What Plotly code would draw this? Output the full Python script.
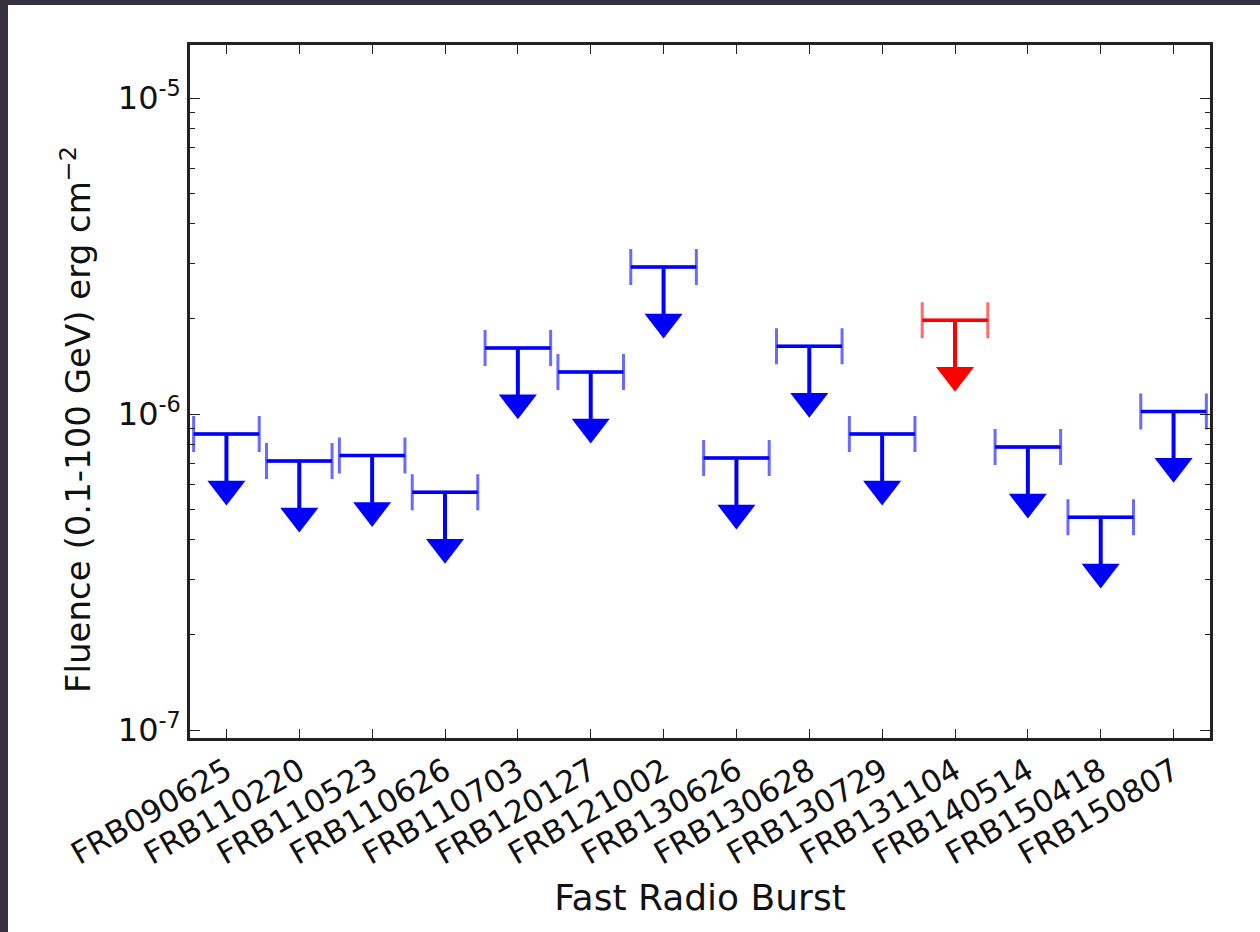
import plotly.graph_objects as go

# Fast radio bursts and Fermi-LAT fluence upper limits (erg cm^-2)
bursts = ["FRB090625", "FRB110220", "FRB110523", "FRB110626", "FRB110703",
          "FRB120127", "FRB121002", "FRB130626", "FRB130628", "FRB130729",
          "FRB131104", "FRB140514", "FRB150418", "FRB150807"]
fluence_ul = [8.65e-7, 7.1e-7, 7.4e-7, 5.66e-7, 1.62e-6,
              1.36e-6, 2.92e-6, 7.26e-7, 1.64e-6, 8.65e-7,
              1.98e-6, 7.87e-7, 4.72e-7, 1.02e-6]
highlight = ["FRB131104"]

ytick_vals = [1e-7, 1e-6, 1e-5]
ytick_text = ["10<sup>-7</sup>", "10<sup>-6</sup>", "10<sup>-5</sup>"]

W, H = 1260, 932
ML, MR, MT, MB = 190, 50, 45, 194
FONT = "DejaVu Sans"

STEM = 10 ** -0.15    # arrow shaft ends where the head starts
HEAD = 10 ** -0.174   # centre of the triangular arrowhead
HALF = 0.45           # half-width of the horizontal bar (category units)

fig = go.Figure()

groups = [
    ("#0000ff", "#6a6aff", [i for i, b in enumerate(bursts) if b not in highlight]),
    ("#ff0000", "#ff6a6a", [i for i, b in enumerate(bursts) if b in highlight]),
]

for solid, light, idx in groups:
    xs = idx
    ys = [fluence_ul[i] for i in idx]
    # end caps (lighter)
    fig.add_trace(go.Scatter(
        x=xs, y=ys, mode="markers",
        marker=dict(size=1, color="rgba(0,0,0,0)"),
        error_x=dict(type="constant", value=HALF, color=light,
                     thickness=3, width=18),
        hoverinfo="skip", showlegend=False))
    # horizontal bar
    fig.add_trace(go.Scatter(
        x=xs, y=ys, mode="markers",
        marker=dict(size=1, color="rgba(0,0,0,0)"),
        error_x=dict(type="constant", value=HALF, color=solid,
                     thickness=3.5, width=0),
        hoverinfo="skip", showlegend=False))
    # arrow shafts
    sx, sy = [], []
    for i in idx:
        sx += [i, i, None]
        sy += [fluence_ul[i], fluence_ul[i] * STEM, None]
    fig.add_trace(go.Scatter(
        x=sx, y=sy, mode="lines", line=dict(color=solid, width=4),
        hoverinfo="skip", showlegend=False))
    # arrowheads
    fig.add_trace(go.Scatter(
        x=xs, y=[v * HEAD for v in ys], mode="markers",
        marker=dict(symbol="triangle-down", size=33, color=solid,
                    line=dict(width=0)),
        hoverinfo="skip", showlegend=False))

# pixel -> paper coordinate helpers
pw, ph = W - ML - MR, H - MT - MB
def px_x(p): return (p - ML) / pw
def px_y(p): return 1 - (p - MT) / ph

# dark frame along the top and left edges of the image
frame = "#35313f"
fig.add_shape(type="rect", xref="paper", yref="paper",
              x0=px_x(0), x1=px_x(W), y0=px_y(5), y1=px_y(0),
              fillcolor=frame, line=dict(width=0), layer="above")
fig.add_shape(type="rect", xref="paper", yref="paper",
              x0=px_x(0), x1=px_x(8), y0=px_y(H), y1=px_y(0),
              fillcolor=frame, line=dict(width=0), layer="above")

# y-axis title
fig.add_annotation(
    text="Fluence (0.1-100 GeV) erg cm<sup>\u22122</sup>",
    xref="paper", yref="paper", x=px_x(76), y=px_y(420),
    xanchor="center", yanchor="middle", textangle=-90, showarrow=False,
    font=dict(family=FONT, size=34, color="#111111"))

fig.update_layout(
    width=W, height=H,
    margin=dict(l=ML, r=MR, t=MT, b=MB),
    paper_bgcolor="white", plot_bgcolor="white",
    font=dict(family=FONT, size=31, color="#111111"),
    showlegend=False,
)

fig.update_xaxes(
    range=[-0.5, 13.5],
    tickmode="array", tickvals=list(range(len(bursts))), ticktext=bursts,
    tickangle=-30,
    ticks="inside", ticklen=9, tickwidth=1.3, tickcolor="#222222",
    showline=True, linecolor="#222222", linewidth=2.5, mirror="ticks",
    showgrid=False, zeroline=False,
    tickfont=dict(family=FONT, size=31, color="#111111"),
    title=dict(text="Fast Radio Burst", font=dict(family=FONT, size=36),
               standoff=15),
)

fig.update_yaxes(
    type="log", range=[-7.025, -4.832],
    tickmode="array", tickvals=ytick_vals, ticktext=ytick_text,
    ticks="inside", ticklen=10, tickwidth=1.3, tickcolor="#222222",
    minor=dict(ticks="inside", ticklen=5, tickwidth=1.1, tickcolor="#222222",
               dtick="D1", showgrid=False),
    showline=True, linecolor="#222222", linewidth=2.5, mirror="ticks",
    showgrid=False, zeroline=False,
    tickfont=dict(family=FONT, size=32, color="#111111"),
)

fig.write_html("out.html")
